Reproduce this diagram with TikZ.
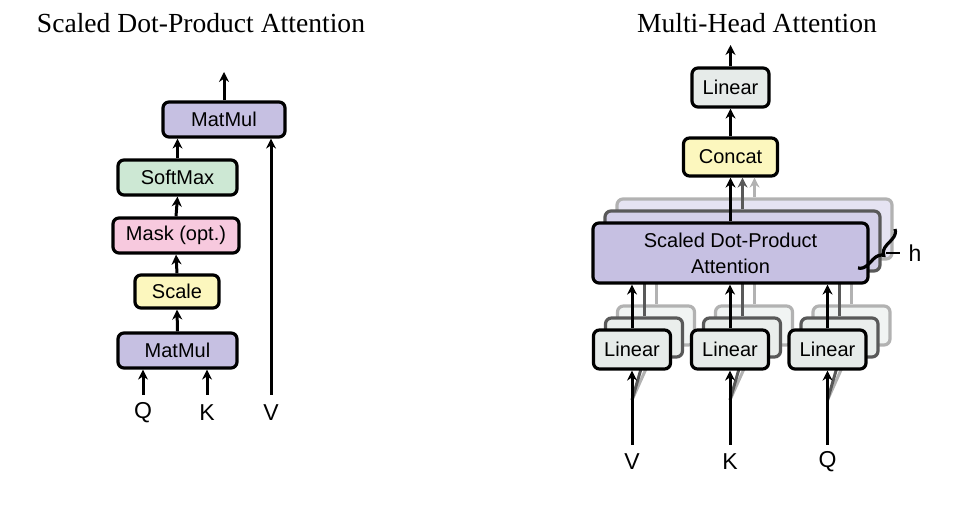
\documentclass[tikz,border=0pt]{standalone}
\usepackage{fontspec}
\setmainfont{Liberation Serif}
\setsansfont{Liberation Sans}
\usetikzlibrary{calc}
\usetikzlibrary{arrows.meta}
\usetikzlibrary{decorations.pathreplacing}
\definecolor{matmulcol}{RGB}{198,192,226}
\definecolor{softmaxcol}{RGB}{205,232,212}
\definecolor{maskcol}{RGB}{247,201,222}
\definecolor{scalecol}{RGB}{252,247,190}
\definecolor{linearcol}{RGB}{230,235,233}
\tikzstyle{opnode} = [draw, line width=1.6pt, rounded corners=3pt, inner sep=0pt, minimum height=17.5pt, font=\sffamily\fontsize{10pt}{13pt}\selectfont]
\tikzstyle{linnode} = [opnode, fill=linearcol, minimum width=38.5pt, minimum height=19.5pt]
\tikzstyle{sdpanode} = [opnode, fill=matmulcol, minimum width=137.5pt, minimum height=30pt, align=center]
\tikzstyle{flow} = [line width=1.5pt, -{Stealth[length=5pt,width=5pt]}]
\tikzstyle{inlabel} = [font=\sffamily\fontsize{11.5pt}{13pt}\selectfont, inner sep=0pt]
\tikzstyle{headline} = [font=\fontsize{13.8pt}{16pt}\selectfont, inner sep=0pt, anchor=base]

\begin{document}
\begin{tikzpicture}[x=0.5pt, y=-0.5pt]
    \useasboundingbox (0,0) rectangle (979,506);

    % scaled dot-product attention
    \node[headline] (title_sdpa) at (201,33) {Scaled Dot-Product Attention};
    \node[opnode, fill=matmulcol, minimum width=61pt] (mm_top) at (224,119.5) {MatMul};
    \node[opnode, fill=softmaxcol, minimum width=59.5pt] (softmax) at (177.5,177.5) {SoftMax};
    \node[opnode, fill=maskcol, minimum width=63pt] (mask) at (176,235.5) {Mask (opt.)};
    \node[opnode, fill=scalecol, minimum width=42pt, minimum height=16.5pt] (scale) at (177,291.5) {Scale};
    \node[opnode, fill=matmulcol, minimum width=59.5pt] (mm_bot) at (177.5,350.5) {MatMul};
    \node[inlabel] (lbl_q) at (143,413) {Q};
    \node[inlabel] (lbl_k) at (207,413) {K};
    \node[inlabel] (lbl_v) at (271,413) {V};
    \coordinate (in_q) at (143,395);
    \coordinate (in_k) at (207,395);
    \coordinate (in_v) at (271,395);
    \coordinate (sdpa_out) at (224,72);
    \draw[flow] (in_q) -- (in_q |- mm_bot.south);
    \draw[flow] (in_k) -- (in_k |- mm_bot.south);
    \draw[flow] (in_v) -- (in_v |- mm_top.south);
    \draw[flow] (mm_bot.north) -- (scale.south);
    \draw[flow] (scale.north) -- (mask.south);
    \draw[flow] (mask.north) -- (softmax.south);
    \draw[flow] (softmax.north) -- (softmax.north |- mm_top.south);
    \draw[flow] (mm_top.north) -- (sdpa_out);

    % multi-head attention
    \node[headline] (title_mha) at (757,33) {Multi-Head Attention};
    \node[linnode] (lin_out) at (730.5,87.5) {Linear};
    \node[opnode, fill=scalecol, minimum width=47pt, minimum height=19pt] (concat) at (730.5,157) {Concat};
    \coordinate (mha_out) at (730.5,45);
    \coordinate (split_v) at (632,400);
    \coordinate (split_k) at (730,400);
    \coordinate (split_q) at (827.5,400);

    \foreach \d/\edge/\fillA/\fillL in {24/black!30/matmulcol!45/linearcol!55, 12/black!65/matmulcol!75/linearcol!85} {
        \node[sdpanode, draw=\edge, fill=\fillA] (sdpa_\d) at (730.5+\d,253-\d) {};
        \node[linnode, draw=\edge, fill=\fillL] (lin_v_\d) at (632+\d,349.5-\d) {};
        \node[linnode, draw=\edge, fill=\fillL] (lin_k_\d) at (730+\d,349.5-\d) {};
        \node[linnode, draw=\edge, fill=\fillL] (lin_q_\d) at (827.5+\d,349.5-\d) {};
        \draw[flow, draw=\edge] (split_v) -- (lin_v_\d.south);
        \draw[flow, draw=\edge] (split_k) -- (lin_k_\d.south);
        \draw[flow, draw=\edge] (split_q) -- (lin_q_\d.south);
        \draw[flow, draw=\edge] (lin_v_\d.north) -- (lin_v_\d.north |- sdpa_\d.south);
        \draw[flow, draw=\edge] (lin_k_\d.north) -- (lin_k_\d.north |- sdpa_\d.south);
        \draw[flow, draw=\edge] (lin_q_\d.north) -- (lin_q_\d.north |- sdpa_\d.south);
        \draw[flow, draw=\edge] (sdpa_\d.north) -- (sdpa_\d.north |- concat.south);
    }

    \node[sdpanode] (sdpa) at (730.5,253) {Scaled Dot-Product\\Attention};
    \node[linnode] (lin_v) at (632,349.5) {Linear};
    \node[linnode] (lin_k) at (730,349.5) {Linear};
    \node[linnode] (lin_q) at (827.5,349.5) {Linear};
    \node[inlabel] (lbl_mv) at (632,462) {V};
    \node[inlabel] (lbl_mk) at (730,462) {K};
    \node[inlabel] (lbl_mq) at (827.5,462) {Q};
    \coordinate (in_mv) at (632,445);
    \coordinate (in_mk) at (730,445);
    \coordinate (in_mq) at (827.5,445);
    \draw[flow] (in_mv) -- (lin_v.south);
    \draw[flow] (in_mk) -- (lin_k.south);
    \draw[flow] (in_mq) -- (lin_q.south);
    \draw[flow] (lin_v.north) -- (lin_v.north |- sdpa.south);
    \draw[flow] (lin_k.north) -- (lin_k.north |- sdpa.south);
    \draw[flow] (lin_q.north) -- (lin_q.north |- sdpa.south);
    \draw[flow] (sdpa.north) -- (sdpa.north |- concat.south);
    \draw[flow] (concat.north) -- (lin_out.south);
    \draw[flow] (lin_out.north) -- (mha_out);

    \coordinate (brace_top) at (895,229);
    \coordinate (brace_bot) at (858,268);
    \coordinate (brace_tip) at (886,253);
    \draw[line width=1.6pt, decorate, decoration={brace, amplitude=5pt}] (brace_top) -- (brace_bot);
    \node[inlabel] (lbl_h) at (915,253) {h};
    \draw[line width=1pt] (brace_tip) -- ($(lbl_h.west)+(-8,0)$);
\end{tikzpicture}
\end{document}
